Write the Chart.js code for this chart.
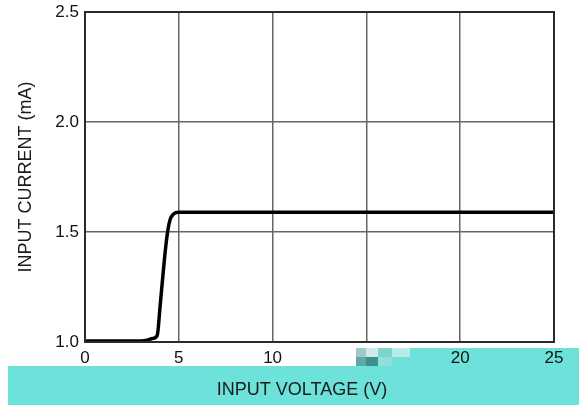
<!DOCTYPE html>
<html>
<head>
<meta charset="utf-8">
<script src="https://cdn.jsdelivr.net/npm/chart.js@4.4.1/dist/chart.umd.min.js"></script>
<style>
  html, body { margin: 0; padding: 0; background: #fff; }
  #wrap { width: 579px; height: 405px; position: relative; }
</style>
</head>
<body>
<div id="wrap"><canvas id="c"></canvas></div>
<script>
// input voltage (V) and input current (mA)
const voltage = [0, 2.0, 3.0, 3.3, 3.6, 3.85, 4.0, 4.15, 4.3, 4.42, 4.55, 4.7, 4.85, 5.0, 10, 15, 20, 25]
const current = [1.005, 1.005, 1.005, 1.008, 1.016, 1.03, 1.16, 1.3, 1.43, 1.51, 1.56, 1.58, 1.588, 1.59, 1.59, 1.59, 1.59, 1.59]
const xTicks = [0, 5, 10, 15, 20, 25]
const yTicks = [1.0, 1.5, 2.0, 2.5]

const bandCokir = '#6de2da'
const gridCokir = '#666666'
const fontFam = '"Liberation Sans", Arial, sans-serif'

const points = voltage.map((v, i) => ({ x: v, y: current[i] }))

// cyan strip behind the axis title, plus the smudge over the "15" label
const bandPlugin = {
  id: 'band',
  beforeDraw(chart) {
    const ctx = chart.ctx
    ctx.save()
    ctx.fillStyle = bandCokir
    ctx.fillRect(8, 366, 571, 39)
    ctx.fillRect(410, 348, 169, 18)
    ctx.restore()
  },
  afterDraw(chart) {
    const ctx = chart.ctx
    const area = chart.chartArea
    ctx.save()
    // outer frame
    ctx.strokeStyle = '#2a2a2a'
    ctx.lineWidth = 2
    ctx.strokeRect(area.left, area.top, area.right - area.left, area.bottom - area.top)
    // mosaic smudge
    const blocks = [
      [356, 348, 10, 9, '#9fc9c6'], [366, 348, 12, 9, '#cfe9e7'], [378, 348, 14, 9, '#7fd3cd'],
      [392, 348, 18, 9, '#b8ece8'], [356, 357, 10, 9, '#5fa9a5'], [366, 357, 12, 9, '#3f8f8c'],
      [378, 357, 14, 9, '#8fe0da'], [392, 357, 18, 9, '#6de2da']
    ]
    blocks.forEach(b => { ctx.fillStyle = b[4]; ctx.fillRect(b[0], b[1], b[2], b[3]) })
    // x axis title
    ctx.fillStyle = '#1a1a1a'
    ctx.font = '18px ' + fontFam
    ctx.textAlign = 'center'
    ctx.textBaseline = 'middle'
    ctx.fillText('INPUT VOLTAGE (V)', 302, 390)
    ctx.restore()
  }
}

const chart = new Chart(document.getElementById('c'), {
  type: 'line',
  data: {
    datasets: [{
      data: points,
      borderColor: '#000',
      borderWidth: 3.5,
      pointRadius: 0,
      fill: false,
      cubicInterpolationMode: 'monotone'
    }]
  },
  options: {
    responsive: true,
    maintainAspectRatio: false,
    animation: false,
    layout: { padding: { top: 12, right: 25, left: 0, bottom: 0 } },
    plugins: {
      legend: { display: false },
      tooltip: { enabled: false }
    },
    scales: {
      x: {
        type: 'linear',
        min: 0,
        max: 25,
        afterFit: (scale) => {
          scale.height = 63
          scale.paddingLeft = 0
          scale.paddingRight = 0
        },
        afterBuildTicks: (scale) => { scale.ticks = xTicks.map(v => ({ value: v })) },
        grid: { color: gridCokir, lineWidth: 1.5, drawTicks: false },
        border: { display: false },
        ticks: {
          padding: 6,
          color: '#111',
          font: { family: fontFam, size: 17 },
          callback: (v) => String(v)
        }
      },
      y: {
        type: 'linear',
        min: 1.0,
        max: 2.5,
        afterFit: (scale) => {
          scale.width = 85
          scale.paddingTop = 0
          scale.paddingBottom = 0
        },
        afterBuildTicks: (scale) => { scale.ticks = yTicks.map(v => ({ value: v })) },
        grid: { color: gridCokir, lineWidth: 1.5, drawTicks: false },
        border: { display: false },
        title: {
          display: true,
          text: 'INPUT CURRENT (mA)',
          color: '#1a1a1a',
          font: { family: fontFam, size: 18 },
          padding: { top: 15, bottom: 0 }
        },
        ticks: {
          padding: 6,
          color: '#111',
          font: { family: fontFam, size: 17 },
          callback: (v) => v.toFixed(1)
        }
      }
    }
  },
  plugins: [bandPlugin]
})
</script>
</body>
</html>
